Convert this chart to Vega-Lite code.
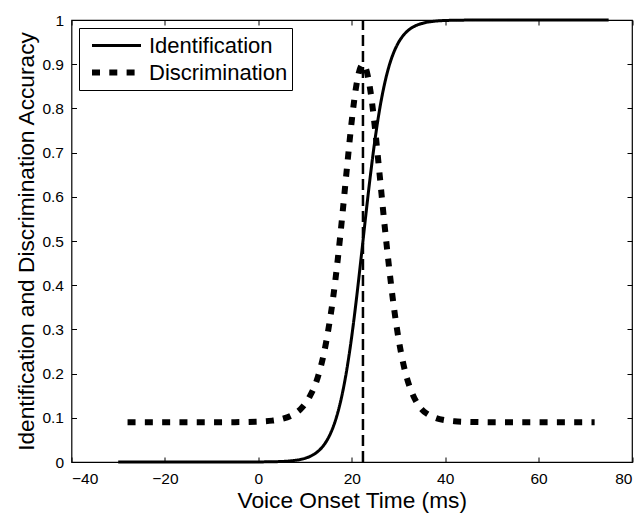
{
  "$schema": "https://vega.github.io/schema/vega-lite/v6.json",
  "width": 560.5,
  "height": 442,
  "autosize": {"type": "none"},
  "padding": {"left": 71.5, "top": 20, "right": 9, "bottom": 51},
  "background": "white",
  "config": {
    "font": "Liberation Sans",
    "view": {"stroke": "black", "strokeWidth": 1.2},
    "axis": {
      "grid": false,
      "domain": false,
      "tickColor": "black",
      "tickSize": -5,
      "tickWidth": 1,
      "labelColor": "black",
      "labelFontSize": 15.5,
      "labelFont": "Liberation Sans",
      "titleFont": "Liberation Sans",
      "titleFontSize": 22.7,
      "titleFontWeight": "normal",
      "titleColor": "black"
    }
  },
  "layer": [
    {
      "data": {
        "values": [
          {"vot": -30, "acc": 0, "series": "Identification"},
          {"vot": -20, "acc": 0, "series": "Identification"},
          {"vot": -10, "acc": 0, "series": "Identification"},
          {"vot": 0, "acc": 0.0002, "series": "Identification"},
          {"vot": 3, "acc": 0.0006, "series": "Identification"},
          {"vot": 5, "acc": 0.0012, "series": "Identification"},
          {"vot": 7, "acc": 0.0027, "series": "Identification"},
          {"vot": 8, "acc": 0.0039, "series": "Identification"},
          {"vot": 9, "acc": 0.0057, "series": "Identification"},
          {"vot": 10, "acc": 0.0084, "series": "Identification"},
          {"vot": 11, "acc": 0.0123, "series": "Identification"},
          {"vot": 12, "acc": 0.018, "series": "Identification"},
          {"vot": 13, "acc": 0.0262, "series": "Identification"},
          {"vot": 14, "acc": 0.038, "series": "Identification"},
          {"vot": 15, "acc": 0.0549, "series": "Identification"},
          {"vot": 16, "acc": 0.0786, "series": "Identification"},
          {"vot": 17, "acc": 0.1114, "series": "Identification"},
          {"vot": 18, "acc": 0.1555, "series": "Identification"},
          {"vot": 19, "acc": 0.2129, "series": "Identification"},
          {"vot": 20, "acc": 0.2843, "series": "Identification"},
          {"vot": 21, "acc": 0.3686, "series": "Identification"},
          {"vot": 22, "acc": 0.4616, "series": "Identification"},
          {"vot": 23, "acc": 0.5575, "series": "Identification"},
          {"vot": 24, "acc": 0.6491, "series": "Identification"},
          {"vot": 25, "acc": 0.7311, "series": "Identification"},
          {"vot": 26, "acc": 0.7997, "series": "Identification"},
          {"vot": 27, "acc": 0.8543, "series": "Identification"},
          {"vot": 28, "acc": 0.8961, "series": "Identification"},
          {"vot": 29, "acc": 0.9268, "series": "Identification"},
          {"vot": 30, "acc": 0.9489, "series": "Identification"},
          {"vot": 31, "acc": 0.9647, "series": "Identification"},
          {"vot": 32, "acc": 0.9757, "series": "Identification"},
          {"vot": 33, "acc": 0.9833, "series": "Identification"},
          {"vot": 34, "acc": 0.9886, "series": "Identification"},
          {"vot": 35, "acc": 0.9922, "series": "Identification"},
          {"vot": 36, "acc": 0.9947, "series": "Identification"},
          {"vot": 38, "acc": 0.9975, "series": "Identification"},
          {"vot": 40, "acc": 0.9989, "series": "Identification"},
          {"vot": 45, "acc": 0.9998, "series": "Identification"},
          {"vot": 50, "acc": 1, "series": "Identification"},
          {"vot": 60, "acc": 1, "series": "Identification"},
          {"vot": 75, "acc": 1, "series": "Identification"},
          {"vot": -28, "acc": 0.09, "series": "Discrimination"},
          {"vot": -20, "acc": 0.09, "series": "Discrimination"},
          {"vot": -10, "acc": 0.0901, "series": "Discrimination"},
          {"vot": -5, "acc": 0.0902, "series": "Discrimination"},
          {"vot": 0, "acc": 0.0912, "series": "Discrimination"},
          {"vot": 3, "acc": 0.0936, "series": "Discrimination"},
          {"vot": 5, "acc": 0.0972, "series": "Discrimination"},
          {"vot": 7, "acc": 0.1045, "series": "Discrimination"},
          {"vot": 8, "acc": 0.1106, "series": "Discrimination"},
          {"vot": 9, "acc": 0.1191, "series": "Discrimination"},
          {"vot": 10, "acc": 0.1312, "series": "Discrimination"},
          {"vot": 11, "acc": 0.1483, "series": "Discrimination"},
          {"vot": 12, "acc": 0.17, "series": "Discrimination"},
          {"vot": 13, "acc": 0.2015, "series": "Discrimination"},
          {"vot": 14, "acc": 0.2436, "series": "Discrimination"},
          {"vot": 15, "acc": 0.3003, "series": "Discrimination"},
          {"vot": 16, "acc": 0.3703, "series": "Discrimination"},
          {"vot": 17, "acc": 0.458, "series": "Discrimination"},
          {"vot": 18, "acc": 0.5599, "series": "Discrimination"},
          {"vot": 19, "acc": 0.6685, "series": "Discrimination"},
          {"vot": 20, "acc": 0.7718, "series": "Discrimination"},
          {"vot": 21, "acc": 0.8531, "series": "Discrimination"},
          {"vot": 22, "acc": 0.896, "series": "Discrimination"},
          {"vot": 22.4, "acc": 0.9, "series": "Discrimination"},
          {"vot": 23, "acc": 0.891, "series": "Discrimination"},
          {"vot": 24, "acc": 0.8395, "series": "Discrimination"},
          {"vot": 25, "acc": 0.7524, "series": "Discrimination"},
          {"vot": 26, "acc": 0.6469, "series": "Discrimination"},
          {"vot": 27, "acc": 0.5387, "series": "Discrimination"},
          {"vot": 28, "acc": 0.4397, "series": "Discrimination"},
          {"vot": 29, "acc": 0.352, "series": "Discrimination"},
          {"vot": 30, "acc": 0.28, "series": "Discrimination"},
          {"vot": 31, "acc": 0.224, "series": "Discrimination"},
          {"vot": 32, "acc": 0.183, "series": "Discrimination"},
          {"vot": 33, "acc": 0.154, "series": "Discrimination"},
          {"vot": 34, "acc": 0.133, "series": "Discrimination"},
          {"vot": 35, "acc": 0.119, "series": "Discrimination"},
          {"vot": 36, "acc": 0.11, "series": "Discrimination"},
          {"vot": 37, "acc": 0.104, "series": "Discrimination"},
          {"vot": 38, "acc": 0.0995, "series": "Discrimination"},
          {"vot": 40, "acc": 0.0945, "series": "Discrimination"},
          {"vot": 42, "acc": 0.0922, "series": "Discrimination"},
          {"vot": 45, "acc": 0.0908, "series": "Discrimination"},
          {"vot": 50, "acc": 0.0901, "series": "Discrimination"},
          {"vot": 60, "acc": 0.09, "series": "Discrimination"},
          {"vot": 72, "acc": 0.09, "series": "Discrimination"}
        ]
      },
      "mark": {"type": "line", "color": "black", "interpolate": "monotone"},
      "encoding": {
        "x": {
          "field": "vot",
          "type": "quantitative",
          "scale": {"domain": [-40, 80], "nice": false, "zero": false},
          "axis": {
            "orient": "bottom",
            "values": [-40, -20, 0, 20, 40, 60, 80],
            "title": "Voice Onset Time (ms)",
            "titleBaseline": "alphabetic",
            "titleY": 45,
            "labelPadding": 14
          }
        },
        "y": {
          "field": "acc",
          "type": "quantitative",
          "scale": {"domain": [0, 1], "nice": false, "zero": false},
          "axis": {
            "orient": "left",
            "values": [0, 0.1, 0.2, 0.3, 0.4, 0.5, 0.6, 0.7, 0.8, 0.9, 1],
            "format": "~g",
            "title": "Identification and Discrimination Accuracy",
            "titleAngle": 270,
            "titleBaseline": "alphabetic",
            "titleX": -38.5,
            "titleY": 221,
            "labelPadding": 13
          }
        },
        "strokeDash": {
          "field": "series",
          "type": "nominal",
          "scale": {"domain": ["Identification", "Discrimination"], "range": [[1, 0], [8, 9.3]]},
          "legend": {
            "title": null,
            "orient": "none",
            "legendX": 7.5,
            "legendY": 8,
            "symbolType": "stroke",
            "symbolSize": 2401,
            "symbolStrokeColor": "black",
            "labelFontSize": 22,
            "labelFont": "Liberation Sans",
            "labelColor": "black",
            "labelOffset": 5,
            "padding": 4,
            "symbolOffset": 6,
            "strokeColor": "black",
            "fillColor": "white",
            "clipHeight": 27,
            "rowPadding": 0
          }
        },
        "strokeWidth": {
          "field": "series",
          "type": "nominal",
          "scale": {"type": "ordinal", "domain": ["Identification", "Discrimination"], "range": [3, 6]},
          "legend": {
            "title": null,
            "orient": "none",
            "legendX": 7.5,
            "legendY": 8,
            "symbolType": "stroke",
            "symbolSize": 2401,
            "symbolStrokeColor": "black",
            "labelFontSize": 22,
            "labelFont": "Liberation Sans",
            "labelColor": "black",
            "labelOffset": 5,
            "padding": 4,
            "symbolOffset": 6,
            "strokeColor": "black",
            "fillColor": "white",
            "clipHeight": 27,
            "rowPadding": 0
          }
        }
      }
    },
    {
      "data": {"values": [{"vot": 22.4, "lo": 0, "hi": 1}]},
      "mark": {"type": "rule", "color": "black", "strokeWidth": 2.5, "strokeDash": [11, 5]},
      "encoding": {
        "x": {
          "field": "vot",
          "type": "quantitative",
          "axis": {"orient": "top", "labels": false, "title": null, "values": [-40, -20, 0, 20, 40, 60, 80]}
        },
        "y": {
          "field": "lo",
          "type": "quantitative",
          "axis": {"orient": "right", "labels": false, "title": null, "values": [0, 0.1, 0.2, 0.3, 0.4, 0.5, 0.6, 0.7, 0.8, 0.9, 1]}
        },
        "y2": {"field": "hi"}
      }
    }
  ],
  "resolve": {"axis": {"x": "independent", "y": "independent"}}
}
